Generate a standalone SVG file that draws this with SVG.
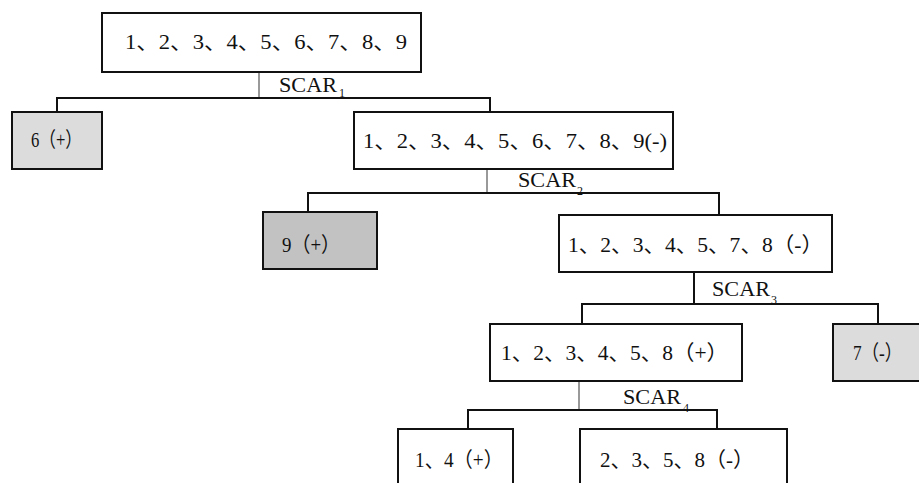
<svg xmlns="http://www.w3.org/2000/svg" width="919" height="483" viewBox="0 0 919 483">
<style>
.box{fill:#fff;stroke:#111;stroke-width:2}
.g1{fill:#dcdcdc;stroke:#111;stroke-width:2}
.g2{fill:#c2c2c2;stroke:#111;stroke-width:2}
.t{font-family:"Liberation Serif","Noto Sans CJK SC",serif;font-size:21px;fill:#111}
.lbl{font-family:"Liberation Serif",serif;font-size:21px;fill:#111}
.sub{font-family:"Liberation Serif",serif;font-size:12px;fill:#111}
.ln{stroke:#111;stroke-width:2;fill:none}
.stem{stroke:#555;stroke-width:1.2;fill:none}
</style>
<rect width="919" height="483" fill="#fff"/>
<g id="connectors">
<line class="stem" x1="259" y1="72" x2="259" y2="98"/>
<polyline class="ln" points="57,112 57,98 490,98 490,112"/>
<line class="stem" x1="487" y1="169" x2="487" y2="193"/>
<polyline class="ln" points="308,212 308,193 719,193 719,215"/>
<line class="ln" x1="694" y1="272" x2="694" y2="304"/>
<polyline class="ln" points="582,324 582,304 878,304 878,324"/>
<line class="stem" x1="579" y1="382" x2="579" y2="410"/>
<polyline class="ln" points="468,429 468,410 717,410 717,429"/>
<text class="lbl" x="279" y="92" textLength="58" lengthAdjust="spacingAndGlyphs">SCAR</text><text class="sub" x="339" y="97">1</text>
<text class="lbl" x="518" y="187" textLength="58" lengthAdjust="spacingAndGlyphs">SCAR</text><text class="sub" x="577" y="195">2</text>
<text class="lbl" x="712" y="296" textLength="58" lengthAdjust="spacingAndGlyphs">SCAR</text><text class="sub" x="771" y="304">3</text>
<text class="lbl" x="623" y="404" textLength="58" lengthAdjust="spacingAndGlyphs">SCAR</text><text class="sub" x="683" y="412">4</text>
</g>
<g id="n-root">
<rect class="box" x="102" y="13" width="319" height="59"/>
<text class="t" x="125" y="49" textLength="282" lengthAdjust="spacingAndGlyphs">1、2、3、4、5、6、7、8、9</text>
</g>
<g id="n-6">
<rect class="g1" x="12" y="112" width="90" height="57"/>
<text class="t" x="31" y="147" textLength="51" lengthAdjust="spacingAndGlyphs">6（+）</text>
</g>
<g id="n-all-neg">
<rect class="box" x="354" y="112" width="319" height="57"/>
<text class="t" x="363" y="148" textLength="304" lengthAdjust="spacingAndGlyphs">1、2、3、4、5、6、7、8、9(-)</text>
</g>
<g id="n-9">
<rect class="g2" x="263" y="212" width="114" height="57"/>
<text class="t" x="282" y="252" textLength="58" lengthAdjust="spacingAndGlyphs">9（+）</text>
</g>
<g id="n-1234578">
<rect class="box" x="559" y="215" width="273" height="57"/>
<text class="t" x="568" y="252" textLength="255" lengthAdjust="spacingAndGlyphs">1、2、3、4、5、7、8（-）</text>
</g>
<g id="n-123458">
<rect class="box" x="490" y="324" width="252" height="57"/>
<text class="t" x="501" y="360" textLength="227" lengthAdjust="spacingAndGlyphs">1、2、3、4、5、8（+）</text>
</g>
<g id="n-7">
<rect class="g1" x="833" y="324" width="95" height="57"/>
<text class="t" x="853" y="360" textLength="49" lengthAdjust="spacingAndGlyphs">7（-）</text>
</g>
<g id="n-14">
<rect class="box" x="398" y="429" width="115" height="70"/>
<text class="t" x="415" y="467" textLength="88" lengthAdjust="spacingAndGlyphs">1、4（+）</text>
</g>
<g id="n-2358">
<rect class="box" x="580" y="429" width="207" height="70"/>
<text class="t" x="600" y="467" textLength="154" lengthAdjust="spacingAndGlyphs">2、3、5、8（-）</text>
</g>
</svg>
